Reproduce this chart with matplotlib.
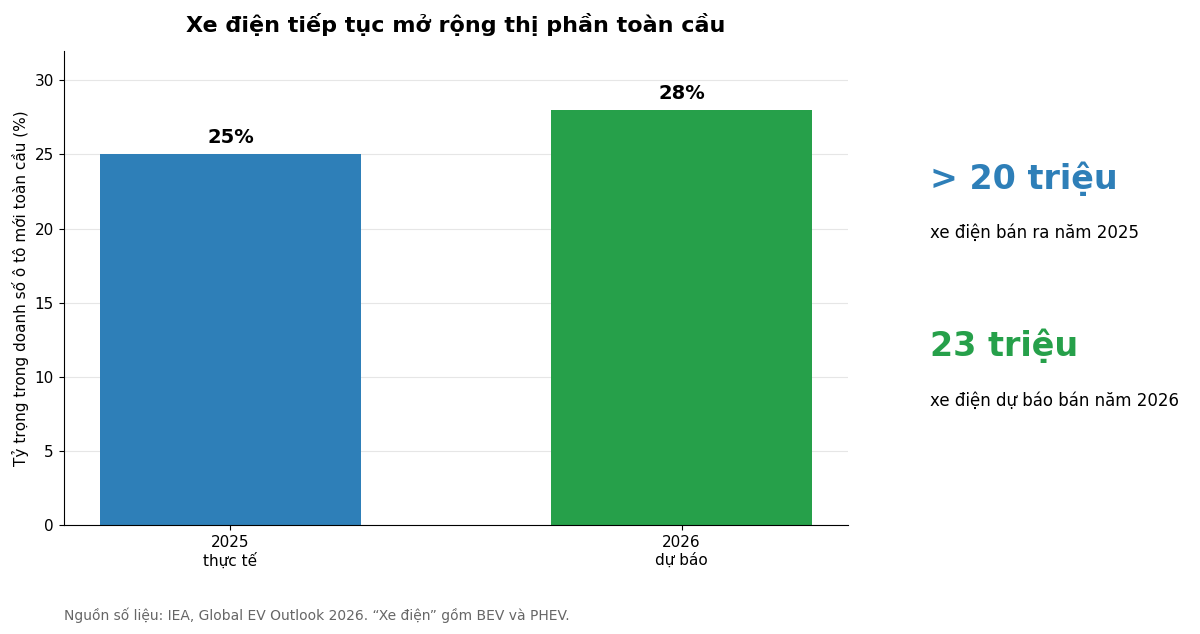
import matplotlib
matplotlib.use("Agg")
import matplotlib.pyplot as plt

categories = ["2025\nthực tế", "2026\ndự báo"]
values = [25, 28]
labels = ["25%", "28%"]
colors = ["#2e7fb8", "#26a04a"]

fig = plt.figure(figsize=(12, 6.34), dpi=100)
ax = fig.add_axes([0.053, 0.172, 0.654, 0.748])
x = range(len(values))
ax.bar(x, values, width=0.58, color=colors, zorder=2)
for xi, v, l in zip(x, values, labels):
    ax.text(xi, v + 0.5, l, ha="center", va="bottom", fontsize=14, fontweight="bold")
ax.set_xticks(list(x))
ax.set_xticklabels(categories, fontsize=11)
ax.set_xlim(-0.37, 1.37)
ax.set_ylim(0, 32)
ax.set_yticks(range(0, 31, 5))
ax.tick_params(labelsize=11)
ax.set_ylabel("Tỷ trọng trong doanh số ô tô mới toàn cầu (%)", fontsize=11)
ax.grid(axis="y", color="#e6e6e6", zorder=0)
for s in ["top", "right"]:
    ax.spines[s].set_visible(False)
fig.text(0.38, 0.962, "Xe điện tiếp tục mở rộng thị phần toàn cầu", ha="center", va="center",
         fontsize=16, fontweight="bold")
fig.text(0.775, 0.718, "> 20 triệu", fontsize=24, fontweight="bold", color=colors[0], va="center")
fig.text(0.775, 0.632, "xe điện bán ra năm 2025", fontsize=12, va="center")
fig.text(0.775, 0.454, "23 triệu", fontsize=24, fontweight="bold", color=colors[1], va="center")
fig.text(0.775, 0.368, "xe điện dự báo bán năm 2026", fontsize=12, va="center")
fig.text(0.053, 0.03, "Nguồn số liệu: IEA, Global EV Outlook 2026. “Xe điện” gồm BEV và PHEV.",
         fontsize=10, color="#666666", va="center")
fig.savefig("out.png", dpi=100)
